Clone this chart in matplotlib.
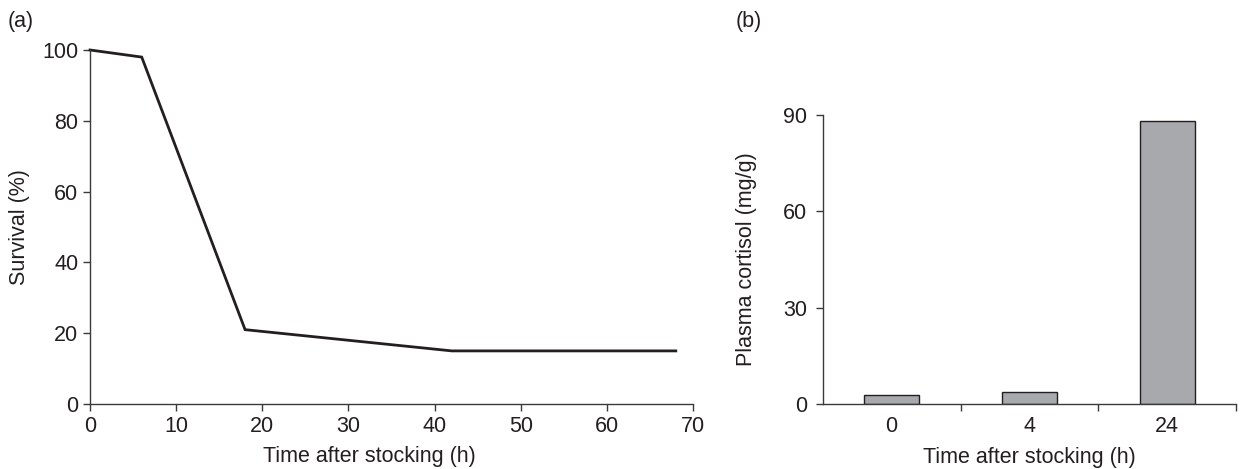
import matplotlib
matplotlib.use("Agg")
import matplotlib.pyplot as plt

plt.rcParams['font.family'] = ['Liberation Sans', 'DejaVu Sans']

# Panel (a) data
time_a = [0, 6, 18, 42, 68]
survival = [100, 98, 21, 15, 15]
xticks_a = [0, 10, 20, 30, 40, 50, 60, 70]
yticks_a = [0, 20, 40, 60, 80, 100]

# Panel (b) data
categories_b = ['0', '4', '24']
cortisol = [2.7, 3.8, 88]
yticks_b = [0, 30, 60, 90]

txt = '#231f20'
spine_c = '#3a3a3a'
fs = 15.5

fig = plt.figure(figsize=(12.4, 4.69), dpi=100)

ax1 = fig.add_axes([0.0726, 0.1386, 0.4863, 0.7548])
ax1.plot(time_a, survival, color=txt, lw=2.0, solid_joinstyle='miter', clip_on=False)
ax1.set_xlim(0, 70)
ax1.set_ylim(0, 100)
ax1.set_xticks(xticks_a)
ax1.set_yticks(yticks_a)
ax1.set_xlabel('Time after stocking (h)', fontsize=fs, color=txt)
ax1.xaxis.set_label_coords(0.464, -0.118)
ax1.set_ylabel('Survival (%)', fontsize=fs, color=txt, labelpad=9)
for s in ['top', 'right']:
    ax1.spines[s].set_visible(False)
for s in ['left', 'bottom']:
    ax1.spines[s].set_color(spine_c)
    ax1.spines[s].set_linewidth(1.0)
ax1.tick_params(axis='both', labelsize=fs, colors=spine_c, labelcolor=txt, length=5, width=1.0, direction='out')

fig.text(0.006, 0.955, '(a)', fontsize=fs, color=txt, ha='left', va='center')

ax2 = fig.add_axes([0.6635, 0.1386, 0.3333, 0.6162])
xpos = list(range(len(categories_b)))
ax2.bar(xpos, cortisol, width=0.4, color='#a7a9ac', edgecolor=txt, linewidth=1.0)
ax2.set_xlim(-0.5, len(categories_b) - 0.5)
ax2.set_ylim(0, 90)
ax2.set_yticks(yticks_b)
ax2.set_xticks([0.5, 1.5, 2.5])
ax2.set_xticklabels([])
ax2.set_xticks(xpos, minor=True)
ax2.set_xticklabels(categories_b, minor=True)
ax2.tick_params(axis='x', which='minor', length=0, labelsize=fs, labelcolor=txt, pad=9)
ax2.tick_params(axis='x', which='major', length=5, width=1.0, colors=spine_c)
ax2.tick_params(axis='y', labelsize=fs, colors=spine_c, labelcolor=txt, length=5, width=1.0, pad=6)
ax2.set_xlabel('Time after stocking (h)', fontsize=fs, color=txt, labelpad=7)
ax2.set_ylabel('Plasma cortisol (mg/g)', fontsize=fs, color=txt, labelpad=19)
for s in ['top', 'right']:
    ax2.spines[s].set_visible(False)
for s in ['left', 'bottom']:
    ax2.spines[s].set_color(spine_c)
    ax2.spines[s].set_linewidth(1.0)

fig.text(0.593, 0.955, '(b)', fontsize=fs, color=txt, ha='left', va='center')

fig.savefig('out.png', dpi=100)
